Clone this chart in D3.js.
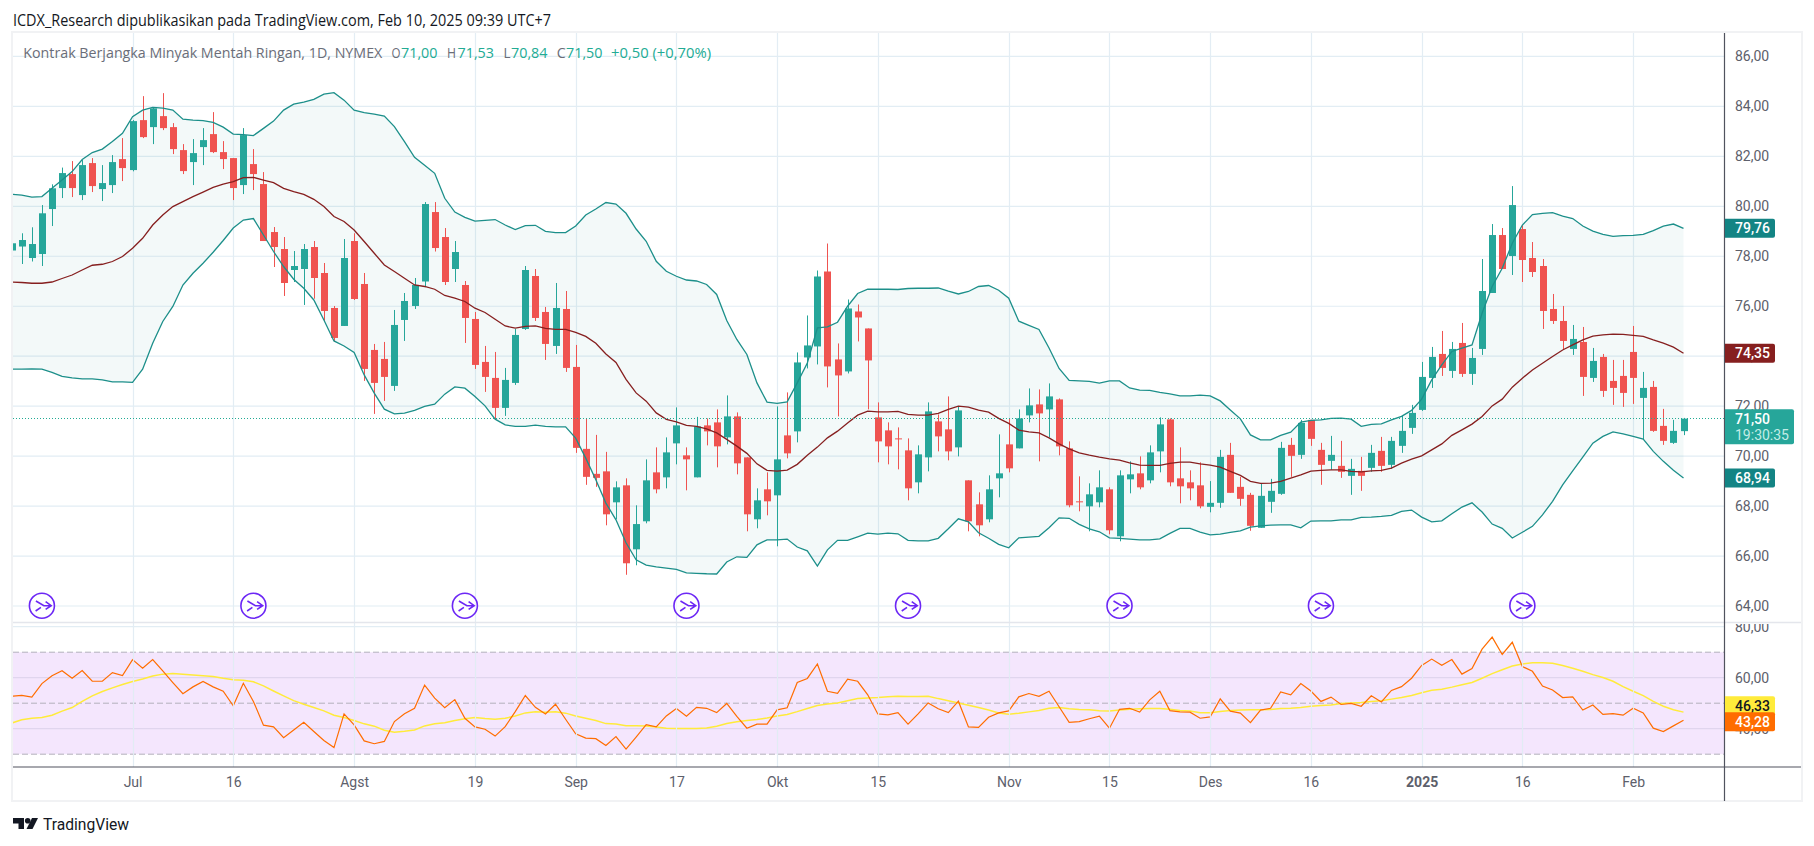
<!DOCTYPE html>
<html><head><meta charset="utf-8">
<style>html,body{margin:0;padding:0;background:#fff;overflow:hidden}svg{display:block}text{font-family:Lato,"Open Sans",sans-serif}</style>
<script src="https://d3js.org/d3.v7.min.js"></script></head>
<body><svg id="c" width="1814" height="846"></svg>
<script>
const open=[78.23,78.39,77.93,78.09,79.89,80.73,81.29,80.45,81.73,80.69,
80.85,81.89,81.45,83.45,83.17,83.61,83.17,82.25,81.77,82.37,
82.89,82.17,81.93,80.85,81.69,80.89,78.97,78.29,77.45,77.49,
78.37,77.33,75.93,75.21,78.61,76.89,74.25,73.89,72.81,75.45,
76.01,76.99,79.77,78.77,77.49,76.85,75.49,73.77,73.13,71.93,
72.93,75.09,77.21,75.77,74.41,75.89,73.57,70.29,69.29,69.39,
68.15,68.83,66.27,67.39,69.35,69.15,70.51,70.03,69.15,71.23,
71.35,70.75,71.59,69.95,67.47,68.67,68.43,70.83,70.99,73.95,
74.39,77.39,73.87,73.39,75.79,75.11,71.55,71.03,70.71,70.23,
68.95,69.95,71.39,71.07,70.35,69.03,68.07,67.47,69.11,70.47,
70.31,71.63,72.07,71.87,72.27,70.31,68.19,67.99,68.15,68.67,
66.79,69.07,69.31,69.03,70.19,71.47,69.11,68.95,68.83,67.97,
68.13,70.05,68.77,68.45,67.13,68.17,68.49,70.45,70.05,71.45,
70.25,69.81,69.61,69.21,69.41,69.53,70.21,69.65,70.41,71.13,
71.85,73.13,74.09,73.41,74.53,73.29,74.29,76.53,78.85,78.01,
79.09,77.93,77.61,75.89,75.41,74.29,74.57,73.13,73.97,73.01,
73.21,74.17,72.33,72.77,71.21,70.53,71.00];
const high=[78.7,78.92,79.16,80.05,80.88,81.55,81.81,81.85,81.93,81.65,
82.05,82.73,83.45,84.41,83.96,84.53,83.33,82.49,82.69,83.13,
83.77,82.61,81.93,83.13,82.29,81.37,79.17,78.77,78.21,78.49,
78.61,77.73,76.01,78.69,78.92,77.33,74.49,74.57,75.85,76.53,
77.13,80.17,80.17,79.13,78.61,77.01,75.77,74.41,74.17,73.53,
75.09,77.61,77.49,75.97,76.93,76.61,74.45,71.49,70.85,70.17,
68.99,69.11,68.03,69.87,70.35,70.75,71.95,70.35,71.57,71.51,
71.87,72.43,71.75,69.95,68.71,69.35,71.99,72.55,74.15,75.63,
77.43,78.51,74.51,76.27,76.07,75.11,72.15,71.35,71.15,70.71,
70.43,72.15,71.67,72.39,71.99,69.03,68.55,69.23,70.87,71.51,
71.87,72.71,72.67,72.91,72.31,70.59,69.19,68.91,69.43,68.75,
69.43,69.79,69.99,70.43,71.55,71.51,70.35,69.43,69.75,69.0,
70.25,70.53,69.17,68.53,68.89,69.09,70.57,70.73,71.45,71.45,
70.53,70.81,70.61,69.89,69.97,70.45,70.77,70.77,71.61,72.05,
73.77,74.37,75.01,74.57,75.33,74.33,77.89,79.29,79.13,80.81,
79.25,78.57,77.89,76.49,76.01,75.25,75.17,74.33,74.09,73.85,
73.85,75.21,73.37,73.01,71.89,71.45,71.53];
const low=[78.0,77.69,77.79,77.61,79.21,80.33,80.37,80.25,80.57,80.21,
80.53,81.01,81.4,82.73,82.49,83.05,82.09,81.29,80.85,81.65,
82.13,81.49,80.25,80.49,80.65,78.61,77.57,76.41,76.97,76.05,
76.3,75.39,74.57,75.21,76.25,73.01,71.69,72.21,72.61,74.61,
75.89,76.76,78.19,76.85,76.97,74.53,73.49,72.57,71.45,71.61,
72.85,75.05,75.41,73.85,74.09,73.37,70.13,68.85,68.77,67.23,
67.47,65.25,65.63,67.31,68.51,68.71,69.67,68.63,69.15,70.43,
69.55,70.47,69.27,66.99,67.11,67.63,66.39,69.91,70.55,73.51,
73.67,72.75,71.59,73.31,74.59,71.87,69.75,69.67,69.47,68.23,
68.51,69.39,70.19,69.83,69.99,66.99,66.79,67.35,68.35,69.35,
70.31,71.35,69.79,70.75,70.03,67.95,67.79,66.99,67.95,66.87,
66.59,68.51,68.67,68.91,69.35,68.79,68.11,68.23,67.91,67.75,
67.93,68.53,68.01,67.01,67.13,67.73,68.45,69.17,69.89,70.41,
68.85,69.45,69.13,68.45,68.61,69.37,69.37,69.49,70.13,70.89,
71.81,72.73,73.21,73.13,73.17,72.85,74.05,76.53,77.49,77.25,
76.97,77.17,75.09,75.29,74.25,74.05,72.41,72.97,72.37,72.05,
71.97,72.09,70.65,70.97,70.45,70.49,70.84];
const close=[78.52,78.65,78.49,79.72,80.72,81.33,80.73,81.65,80.81,80.93,
81.77,81.53,83.41,82.77,83.92,83.13,82.29,81.41,82.13,82.65,
82.17,81.89,80.73,82.85,81.29,78.61,78.37,76.93,77.61,78.29,
77.13,75.81,74.73,77.93,76.29,73.49,72.93,73.17,75.25,76.21,
76.85,80.09,78.33,76.97,78.17,75.53,73.65,73.17,71.93,73.05,
74.85,77.45,75.53,74.49,75.93,73.53,70.33,69.17,69.13,67.67,
68.75,65.71,67.28,69.03,68.67,70.15,71.23,69.87,71.19,70.99,
70.39,71.59,69.71,67.67,68.23,68.19,69.87,70.11,73.75,74.43,
77.19,73.59,73.23,75.91,75.55,73.83,70.59,70.39,70.67,68.71,
70.07,71.79,70.79,70.19,71.83,67.39,67.23,68.67,69.31,69.51,
71.51,72.03,71.71,72.39,70.39,68.03,68.15,68.47,68.75,67.03,
69.23,69.27,68.75,70.15,71.27,68.95,68.79,68.71,67.99,68.13,
69.97,68.53,68.29,67.21,68.41,68.61,70.33,70.01,71.33,70.69,
69.65,70.05,69.37,69.49,69.21,70.13,69.61,70.61,71.01,71.73,
73.17,73.97,73.53,74.29,73.29,73.93,76.61,78.85,77.49,80.05,
77.85,77.37,75.81,75.41,74.61,74.69,73.17,73.81,72.61,72.73,
72.53,73.13,72.73,71.01,70.61,71.01,71.50];
const upper=[80.48,80.45,80.37,80.39,80.72,81.05,81.39,81.87,82.15,82.29,
82.59,82.92,83.59,83.85,83.96,83.93,83.85,83.49,83.45,83.43,
83.36,83.17,82.89,82.87,82.83,83.12,83.41,83.85,84.09,84.17,
84.28,84.49,84.55,84.25,83.85,83.75,83.69,83.61,83.19,82.59,
81.96,81.64,81.32,80.32,79.77,79.56,79.41,79.44,79.47,79.25,
79.07,79.23,79.24,79.0,78.95,78.95,79.21,79.65,79.89,80.15,
80.09,79.72,79.09,78.6,77.8,77.4,77.2,77.05,77.01,76.87,
76.47,75.43,74.67,74.07,72.93,72.16,72.11,72.17,72.93,73.73,
75.13,75.17,75.36,76.0,76.51,76.68,76.68,76.68,76.67,76.71,
76.72,76.72,76.73,76.6,76.49,76.59,76.79,76.83,76.64,76.32,
75.4,75.23,75.07,74.33,73.51,73.03,73.01,72.99,72.92,73.01,
73.01,72.73,72.64,72.63,72.55,72.49,72.41,72.41,72.44,72.41,
72.21,71.85,71.49,70.85,70.65,70.65,70.83,70.96,71.36,71.43,
71.45,71.51,71.52,71.48,71.19,71.27,71.29,71.45,71.59,71.83,
72.28,73.05,73.65,74.19,74.32,74.45,75.72,76.79,77.52,78.52,
79.25,79.67,79.72,79.75,79.61,79.51,79.21,79.01,78.88,78.8,
78.83,78.84,78.88,79.03,79.21,79.29,79.12];
const basis=[76.97,76.95,76.92,76.92,76.97,77.11,77.25,77.45,77.64,77.68,
77.79,77.99,78.32,78.72,79.25,79.65,79.99,80.19,80.39,80.57,
80.76,80.89,80.99,81.15,81.16,81.05,80.95,80.72,80.59,80.48,
80.28,79.99,79.59,79.39,79.05,78.59,78.12,77.65,77.39,77.12,
76.85,76.79,76.68,76.43,76.32,76.19,75.92,75.75,75.48,75.21,
75.12,75.19,75.21,75.11,75.07,75.07,74.95,74.79,74.52,74.09,
73.75,73.07,72.53,72.2,71.73,71.47,71.37,71.23,71.19,71.09,
70.93,70.67,70.4,70.11,69.69,69.43,69.4,69.44,69.67,70.03,
70.36,70.73,71.0,71.33,71.64,71.8,71.77,71.77,71.79,71.67,
71.64,71.64,71.71,71.87,72.0,71.96,71.84,71.76,71.51,71.31,
71.04,70.97,70.93,70.73,70.49,70.29,70.13,70.04,69.96,69.89,
69.84,69.73,69.64,69.63,69.63,69.71,69.76,69.76,69.69,69.64,
69.56,69.39,69.23,68.99,68.91,68.92,68.99,69.12,69.25,69.4,
69.43,69.45,69.45,69.39,69.37,69.41,69.43,69.52,69.72,69.88,
70.01,70.25,70.49,70.83,71.05,71.28,71.59,72.01,72.28,72.76,
73.12,73.45,73.72,73.99,74.25,74.45,74.65,74.8,74.85,74.88,
74.87,74.83,74.79,74.65,74.52,74.36,74.12];
const lower=[73.48,73.48,73.49,73.48,73.35,73.19,73.13,73.09,73.09,73.05,
72.97,72.97,72.95,73.48,74.52,75.39,75.99,76.85,77.32,77.72,
78.16,78.63,79.13,79.45,79.51,78.85,78.19,77.59,77.08,76.72,
76.25,75.45,74.61,74.41,74.15,73.25,72.52,71.88,71.69,71.72,
71.83,71.99,72.08,72.48,72.77,72.72,72.39,72.01,71.48,71.25,
71.19,71.19,71.24,71.19,71.17,71.17,70.72,69.92,69.05,68.12,
67.45,66.53,65.85,65.64,65.57,65.52,65.47,65.33,65.31,65.29,
65.28,65.76,65.97,65.95,66.45,66.65,66.65,66.68,66.36,66.21,
65.6,66.25,66.63,66.63,66.77,66.92,66.88,66.92,66.89,66.63,
66.61,66.61,66.71,67.09,67.49,67.37,66.93,66.71,66.47,66.33,
66.73,66.76,66.79,67.13,67.53,67.51,67.27,67.09,66.97,66.73,
66.71,66.68,66.65,66.65,66.69,66.91,67.11,67.11,66.96,66.85,
66.88,66.95,67.01,67.16,67.21,67.24,67.25,67.25,67.13,67.4,
67.41,67.41,67.45,67.45,67.55,67.56,67.59,67.63,67.79,67.84,
67.56,67.37,67.41,67.69,67.96,68.13,67.76,67.28,67.11,66.72,
66.95,67.19,67.65,68.19,68.85,69.41,69.96,70.52,70.79,70.97,
70.89,70.79,70.68,70.19,69.79,69.43,69.12];
const rsi=[52.7,53.1,52.4,57.7,60.8,62.7,59.8,62.8,58.6,58.6,
62.0,60.8,67.1,63.7,67.1,62.7,58.1,53.7,56.4,58.5,
56.4,54.7,49.0,57.8,50.7,41.4,40.7,36.5,39.5,42.5,
38.9,35.4,32.6,45.8,41.5,35.2,34.1,35.0,42.8,45.9,
48.0,57.1,52.0,48.2,51.4,44.1,40.7,39.8,37.1,40.8,
46.7,53.0,48.4,45.8,49.6,43.7,38.0,36.3,36.1,33.4,
36.9,32.0,36.7,41.6,40.7,45.0,47.9,44.9,48.4,48.0,
46.3,49.9,44.8,40.2,41.8,41.8,47.4,48.2,58.1,59.7,
65.4,54.7,53.9,59.4,58.6,53.3,45.8,45.4,46.3,41.8,
45.8,50.1,47.8,46.3,50.8,40.7,40.5,44.5,46.2,47.0,
52.5,53.8,52.7,54.7,48.6,42.5,42.8,43.9,44.9,40.2,
47.6,48.0,46.5,51.3,54.7,47.1,46.6,46.5,44.1,44.6,
51.7,46.9,46.1,42.4,47.3,48.0,54.4,53.3,57.7,54.8,
50.7,52.4,49.5,49.9,48.8,52.9,50.5,55.0,56.5,59.8,
64.8,67.3,64.9,67.1,61.4,63.6,71.2,75.9,69.1,73.9,
64.4,62.5,56.7,55.2,52.2,52.5,47.3,49.3,45.6,45.9,
45.3,48.0,46.2,40.2,38.9,41.1,43.28];
const rsiMa=[42.2,43.5,44.1,44.4,45.3,46.9,48.3,50.7,52.9,54.6,
56.0,57.3,58.5,59.5,60.7,61.4,61.6,61.4,61.1,60.8,
60.5,59.8,59.2,59.0,58.4,56.8,54.8,52.9,51.0,49.6,
48.3,47.0,45.3,44.4,43.2,41.9,41.0,39.4,38.6,39.0,
39.5,41.1,41.9,42.3,43.2,43.9,44.4,44.0,43.7,44.1,
45.0,46.2,46.6,46.5,46.6,46.1,45.0,44.1,43.2,42.0,
41.8,41.2,41.2,41.1,40.7,40.2,40.1,40.1,40.1,40.3,
41.0,42.0,42.7,43.2,43.6,44.2,45.0,45.6,46.7,47.9,
49.1,49.7,50.1,51.0,51.8,52.0,52.2,52.5,52.7,52.6,
52.6,52.7,51.8,51.0,50.1,49.2,48.3,47.3,46.2,45.7,
46.1,46.6,47.1,48.0,48.3,47.8,47.5,47.4,47.0,46.9,
47.3,47.6,47.8,47.9,47.9,47.6,47.1,46.9,46.3,46.3,
46.7,47.1,47.3,47.4,47.4,47.5,47.9,48.0,48.3,48.8,
49.1,49.3,49.9,50.1,50.3,50.7,51.0,51.6,52.2,53.0,
54.1,55.1,55.5,56.3,57.2,58.1,59.8,61.6,63.1,64.6,
65.4,65.9,65.9,65.7,64.8,63.7,62.5,61.2,60.1,58.6,
56.5,54.7,53.0,50.7,48.8,47.4,46.5];

const timeTickBars=[12,22,34,46,56,66,76,86,99,109,119,129,140,150,161];
const timeTickLabels=["Jul","16","Agst","19","Sep","17","Okt","15","Nov","15","Des","16","2025","16","Feb"];
const priceTicks=[86,84,82,80,78,76,74,72,70,68,66,64];
const rsiTicks=[80,60,40];
const rsiBands=[70,50,30];
const earningBars=[3,24,45,67,89,110,130,150];
const lastPrice=71.50;
const labelUpper="79,76",labelBasis="74,35",labelLower="68,94",labelPrice="71,50",labelCountdown="19:30:35",labelMa="46,33",labelRsi="43,28";
const titleText="ICDX_Research dipublikasikan pada TradingView.com, Feb 10, 2025 09:39 UTC+7";
const legendName="Kontrak Berjangka Minyak Mentah Ringan, 1D, NYMEX";
const legendOhlc=[["O","71,00"],["H","71,53"],["L","70,84"],["C","71,50"]];
const legendChange="+0,50 (+0,70%)";

const svg=d3.select("#c");
const L=13,R=1724,T=33,PB=622,RT=623,AX=767,B=801,FR=1802;
const comma=d3.format(".2f");
const fmt=v=>comma(v).replace(".",",");
const bars=d3.range(open.length);
const x=d3.scaleLinear().domain([0,166]).range([11.7,1683.5]);
const y=d3.scaleLinear().domain([80,64]).range([206.3,606]);
const yr=d3.scaleLinear().domain([80,30]).range([626.7,754.2]);

const FONT='Roboto,sans-serif';
const GRID="#e2edf4",TXT="#5d606b",UP="#26a69a",DN="#ef5350",BAND="#1c8f8a",BAS="#861f1f";

const defs=svg.append("defs");
defs.append("clipPath").attr("id","pc").append("rect").attr("x",L).attr("y",T).attr("width",R-L).attr("height",PB-T);
defs.append("clipPath").attr("id","rc").append("rect").attr("x",L).attr("y",RT).attr("width",R-L).attr("height",AX-RT);
defs.append("clipPath").attr("id","ra").append("rect").attr("x",0).attr("y",RT+1).attr("width",FR-R).attr("height",AX-RT);

// outer frame
svg.append("rect").attr("x",12).attr("y",32).attr("width",FR-12).attr("height",B-32).attr("fill","#fff").attr("stroke","#f1f2f4").attr("stroke-width",2);

// title
svg.append("text").attr("x",13).attr("y",25.5).attr("font-size",15.5).attr("fill","#131722").style("font-family",'"Open Sans",sans-serif')
  .attr("textLength",538).attr("lengthAdjust","spacingAndGlyphs").text(titleText);

// RSI band fill
const rp=svg.append("g").attr("clip-path","url(#rc)");
rp.append("rect").attr("x",L).attr("width",R-L).attr("y",yr(70)).attr("height",yr(30)-yr(70)).attr("fill","#f4e6fd");

// grid
const gridX=svg.append("g");
gridX.selectAll("line").data(timeTickBars).join("line")
  .attr("x1",d=>Math.round(x(d))+.5).attr("x2",d=>Math.round(x(d))+.5).attr("y1",T).attr("y2",AX)
  .attr("stroke",GRID).attr("stroke-width",1.2).attr("opacity",.95);
const gridY=svg.append("g");
gridY.selectAll("line").data(priceTicks).join("line")
  .attr("x1",L).attr("x2",R).attr("y1",d=>y(d)).attr("y2",d=>y(d)).attr("stroke",GRID).attr("stroke-width",1.2);
rp.selectAll("line.g").data(rsiTicks).join("line").attr("class","g")
  .attr("x1",L).attr("x2",R).attr("y1",d=>yr(d)).attr("y2",d=>yr(d)).attr("stroke",d=>d==80?GRID:"#e0d5ee").attr("stroke-width",1.2);
rp.selectAll("line.b").data(rsiBands).join("line").attr("class","b")
  .attr("x1",L).attr("x2",R).attr("y1",d=>yr(d)).attr("y2",d=>yr(d)).attr("stroke","#b2b0bb").attr("stroke-width",1).attr("stroke-dasharray","6 3");

// price pane
const pp=svg.append("g").attr("clip-path","url(#pc)");
pp.append("path").datum(bars).attr("fill","rgba(28,143,138,0.055)")
  .attr("d",d3.area().x(i=>x(i)).y0(i=>y(lower[i])).y1(i=>y(upper[i])));
const cg=pp.append("g");
cg.selectAll("line").data(bars).join("line")
  .attr("x1",i=>Math.round(x(i))+.5).attr("x2",i=>Math.round(x(i))+.5)
  .attr("y1",i=>y(high[i])).attr("y2",i=>y(low[i]))
  .attr("stroke",i=>close[i]>=open[i]?UP:DN).attr("stroke-width",1);
cg.selectAll("rect").data(bars).join("rect")
  .attr("x",i=>Math.round(x(i))-3).attr("width",7)
  .attr("y",i=>y(Math.max(open[i],close[i])))
  .attr("height",i=>Math.max(1,Math.abs(y(open[i])-y(close[i]))))
  .attr("fill",i=>close[i]>=open[i]?UP:DN);
const lineOf=(arr,sc)=>d3.line().x(i=>x(i)).y(i=>sc(arr[i]));
pp.append("path").datum(bars).attr("fill","none").attr("stroke",BAND).attr("stroke-width",1.3).attr("d",lineOf(upper,y));
pp.append("path").datum(bars).attr("fill","none").attr("stroke",BAND).attr("stroke-width",1.3).attr("d",lineOf(lower,y));
pp.append("path").datum(bars).attr("fill","none").attr("stroke",BAS).attr("stroke-width",1.3).attr("d",lineOf(basis,y));
// last price dotted
svg.append("line").attr("x1",L).attr("x2",R).attr("y1",Math.floor(y(lastPrice))+.5).attr("y2",Math.floor(y(lastPrice))+.5)
  .attr("stroke","#22ab94").attr("stroke-width",1).attr("stroke-dasharray","1 2");

// earnings icons
const ic=svg.append("g").selectAll("g").data(earningBars).join("g").attr("transform",i=>`translate(${x(i)},605.7)`);
ic.append("circle").attr("r",12.5).attr("fill","#fff").attr("fill-opacity",.6).attr("stroke","#6c27f5").attr("stroke-width",1.6);
ic.append("path").attr("d","M-6,-4.7 L2,0 L8.7,0 M3.7,-4 L9.3,0 L3.7,3.7 M-1,1.7 L-6.3,5.3").attr("fill","none").attr("stroke","#6c27f5").attr("stroke-width",1.6);

// RSI lines
rp.append("path").datum(bars).attr("fill","none").attr("stroke","#ffeb3b").attr("stroke-width",1.5).attr("d",lineOf(rsiMa,yr));
rp.append("path").datum(bars).attr("fill","none").attr("stroke","#ff6d00").attr("stroke-width",1.2).attr("d",lineOf(rsi,yr));

// pane separator
svg.append("line").attr("x1",L).attr("x2",FR-1).attr("y1",622.5).attr("y2",622.5).attr("stroke","#e4e6ec").attr("stroke-width",1.6);

// price axis
const axP=d3.axisRight(y).tickValues(priceTicks).tickFormat(fmt).tickSize(0).tickPadding(11);
const gp=svg.append("g").attr("transform",`translate(${R},0)`).call(axP);
gp.select(".domain").remove();
gp.selectAll("text").attr("fill",TXT).attr("font-size",14).style("font-family",FONT);
const axR=d3.axisRight(yr).tickValues(rsiTicks).tickFormat(fmt).tickSize(0).tickPadding(11);
const gr=svg.append("g").attr("transform",`translate(${R},0)`).attr("clip-path","url(#ra)").call(axR);
gr.select(".domain").remove();
gr.selectAll("text").attr("fill",TXT).attr("font-size",14).style("font-family",FONT);

// time axis
const axT=d3.axisBottom(x).tickValues(timeTickBars).tickFormat((d,i)=>timeTickLabels[i]).tickSize(0).tickPadding(10);
const gt=svg.append("g").attr("transform",`translate(0,${AX})`).call(axT);
gt.select(".domain").remove();
gt.selectAll("text").attr("fill",TXT).attr("font-size",14).style("font-family",FONT)
  .attr("font-weight",(d,i)=>timeTickLabels[i]=="2025"?700:400);

// axis lines
svg.append("line").attr("x1",L).attr("x2",FR-1).attr("y1",AX).attr("y2",AX).attr("stroke","#50535e").attr("stroke-width",1.2);
svg.append("line").attr("x1",R+.5).attr("x2",R+.5).attr("y1",T).attr("y2",B).attr("stroke","#50535e").attr("stroke-width",1.2);

// price labels
function bubble(cy,h,w,fill,lines){
  const g=svg.append("g");
  g.append("path").attr("d",`M${R+1},${cy-h/2}H${R+w-2}q2,0 2,2V${cy+h/2-2}q0,2 -2,2H${R+1}Z`).attr("fill",fill);
  lines.forEach(l=>g.append("text").attr("x",R+11).attr("y",cy+l.dy).attr("dy","0.35em").attr("fill",l.c).attr("font-size",14).style("font-family",FONT).attr("font-weight",l.w||500).text(l.t));
}
bubble(y(upper[166]),19,51,"#138484",[{t:labelUpper,dy:0,c:"#fff"}]);
bubble(y(basis[166]),19,51,"#861f1f",[{t:labelBasis,dy:0,c:"#fff"}]);
bubble(y(lower[166]),19,51,"#138484",[{t:labelLower,dy:0,c:"#fff"}]);
bubble(y(lastPrice)+8,35,70,"#26a69a",[{t:labelPrice,dy:-8,c:"#fff"},{t:labelCountdown,dy:8,c:"#c3ece6",w:400}]);
bubble(yr(rsiMa[166])-6.5,19,51,"#ffeb3b",[{t:labelMa,dy:0,c:"#131722"}]);
bubble(yr(rsi[166])+1.5,19,51,"#ff6d00",[{t:labelRsi,dy:0,c:"#fff"}]);

// legend
const lg=svg.append("g").style("font-family",'"Open Sans",sans-serif').attr("font-size",14);
function lt(xp,w,t,c){lg.append("text").attr("x",xp).attr("y",58).attr("fill",c).attr("textLength",w).attr("lengthAdjust","spacingAndGlyphs").style("font-family",'"Open Sans",sans-serif').text(t);}
lt(23.3,359,legendName,"#6a6d78");
const lx=[391.5,447,503.4,556.7],vx=[401,457.5,511,566];
legendOhlc.forEach((d,i)=>{lt(lx[i],d[0]=="L"?7:9,d[0],"#6a6d78");lt(vx[i],36.5,d[1],"#22ab94");});
lt(611,100,legendChange,"#22ab94");

// logo
const lo=svg.append("g").attr("transform","translate(13,818)").attr("fill","#131722");
lo.append("path").attr("d","M0,0H11V11H5.5V5.5H0Z");
lo.append("circle").attr("cx",14.7).attr("cy",2.8).attr("r",2.8);
lo.append("path").attr("d","M19,0H25L19.5,11H13.5Z");
svg.append("text").attr("x",43).attr("y",829.5).attr("fill","#131722").attr("font-size",17).style("font-family",FONT)
  .attr("textLength",86).attr("lengthAdjust","spacingAndGlyphs").text("TradingView");
</script></body></html>
